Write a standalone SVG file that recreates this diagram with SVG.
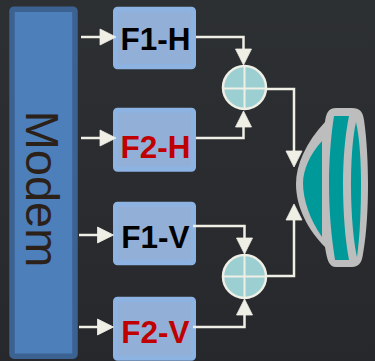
<svg xmlns="http://www.w3.org/2000/svg" width="375" height="361" viewBox="0 0 375 361">
<defs>
<linearGradient id="bg" x1="0" y1="0" x2="0" y2="1"><stop offset="0" stop-color="#2d3033"/><stop offset="1" stop-color="#27282c"/></linearGradient>
<marker id="ah" markerUnits="userSpaceOnUse" markerWidth="20" markerHeight="20" refX="14" refY="10" orient="auto"><path d="M1,2 L17,10 L1,18 Z" fill="#f0efe6" stroke="#f0efe6" stroke-width="0.800"/></marker>
</defs>
<style>
.box{fill:#92b0d7;stroke:#8cb3e2;stroke-width:5}
.lbl{font-family:"Liberation Sans",Arial,sans-serif;font-weight:700;font-size:31.500px;text-anchor:middle}
.c{fill:none;stroke:#f0efe6;stroke-width:2.500;marker-end:url(#ah)}
.sum circle{fill:#9ccfd2;stroke:#f0efe6;stroke-width:2.500}
.sum path{fill:none;stroke:#f0efe6;stroke-width:2}
.teal{fill:#009999}
</style>
<rect width="375" height="361" fill="url(#bg)"/>
<g id="modem">
<rect x="12" y="9.200" width="63" height="347" rx="2" fill="#4d7fbb" stroke="#3c6291" stroke-width="5.500"/>
<text transform="translate(26,189) rotate(90)" font-family="'Liberation Sans',Arial,sans-serif" font-size="47" text-anchor="middle" fill="#2b2118">Modem</text>
</g>
<g id="f1h"><rect class="box" x="115.500" y="9.200" width="78" height="57.500" rx="2"/><text class="lbl" x="155.500" y="50" fill="#000">F1-H</text></g>
<g id="f2h"><rect class="box" x="115.500" y="110.200" width="78" height="59" rx="2"/><text class="lbl" x="155.500" y="158" fill="#c00000">F2-H</text></g>
<g id="f1v"><rect class="box" x="115.500" y="204.200" width="78" height="58.500" rx="2"/><text class="lbl" x="155.500" y="248" fill="#000">F1-V</text></g>
<g id="f2v"><rect class="box" x="115.500" y="299.200" width="78" height="59" rx="2"/><text class="lbl" x="155.500" y="343" fill="#c00000">F2-V</text></g>
<g id="sum1" class="sum"><circle cx="244.500" cy="87.500" r="21.500"/><path d="M244.500,66V109M223,88.500H266"/></g>
<g id="sum2" class="sum"><circle cx="244.500" cy="276.500" r="21.500"/><path d="M244.500,255V298M223,276.500H266"/></g>
<g id="antenna">
<path fill="#bdbdbd" d="M325,122 C326,114 328,108 336,108 L352,108 C360,108 363,112 364,120 C367,140 368,165 368,184 C368,205 367,232 363,254 C362,262 359,267 352,267 L336,267 C329,267 327,260 325,247 C308,230 296,207 296,184 C296,165 306,142 325,122 Z"/>
<path class="teal" d="M322,141 C310,154 303,170 303,183 C303,200 310,220 322,237 Z"/>
<path class="teal" d="M334,116 L349,116 C345,135 343,160 343,183 C343,210 345,240 349,260 L335,260 C331,235 329,210 329,183 C329,160 331,135 334,116 Z"/>
<path class="teal" d="M356,122 C352,140 351,165 351,184 C351,210 353,240 357,257 C360,235 361,208 361,184 C361,165 360,140 356,122 Z"/>
</g>
<g id="connectors">
<path class="c" d="M81,37H113"/>
<path class="c" d="M81,138H113"/>
<path class="c" d="M79,235H110.500"/>
<path class="c" d="M79,327H110.500"/>
<path class="c" d="M196,37H243.500V62"/>
<path class="c" d="M196,138H243.500V114"/>
<path class="c" d="M193,226H244.500V251"/>
<path class="c" d="M193,327H244.500V302"/>
<path class="c" d="M266,89H294V164"/>
<path class="c" d="M266,276H294V207"/>
</g>
</svg>
